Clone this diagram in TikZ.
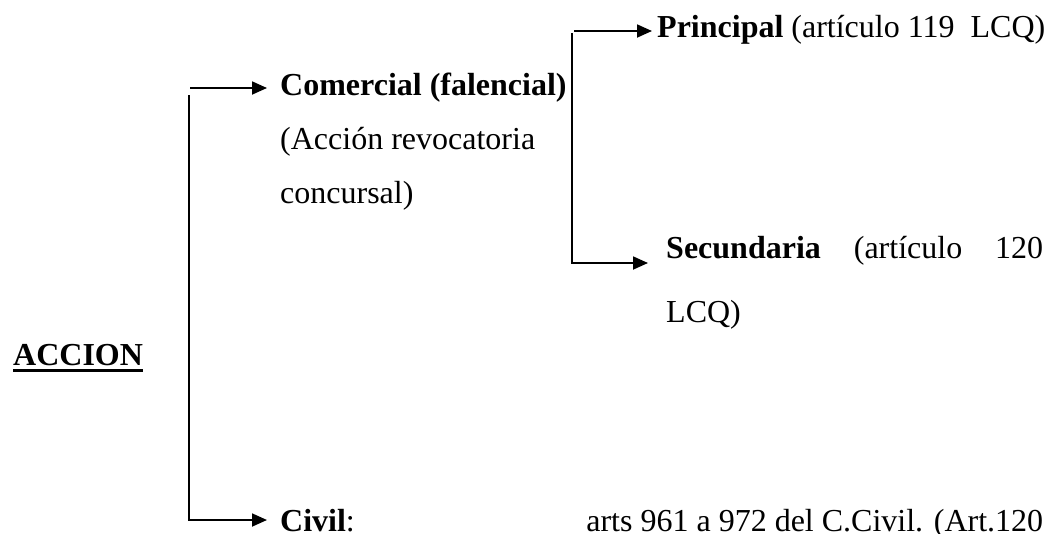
\documentclass[tikz,border=0pt]{standalone}
\usepackage{fontspec}
\setmainfont{Liberation Serif}
\usetikzlibrary{arrows.meta}
\begin{document}
\begin{tikzpicture}[x=1pt,y=-1pt,
  txt/.style={inner sep=0pt,anchor=base west,font=\fontsize{32}{38}\selectfont},
  conn/.style={line width=1.8pt,-{Triangle[length=15pt,width=13pt]}},
  bar/.style={line width=1.8pt}]
\useasboundingbox (0,0) rectangle (1057,533);
% texts
\node[txt] (accion) at (13,365) {\textbf{ACCION}};
\node[txt] (com) at (280,95) {\textbf{Comercial (falencial)}};
\node[txt] (com2) at (280,149) {(Acción revocatoria};
\node[txt] (com3) at (280,203) {concursal)};
\node[txt] (prin) at (657,37) {\textbf{Principal} (artículo 119\ \ LCQ)};
\node[txt] (sec) at (666,258) {\hbox to 377pt{\textbf{Secundaria}\hfill(artículo\hfill 120}};
\node[txt] (sec2) at (666,322) {LCQ)};
\node[txt] (civ) at (280,531) {\hbox to 763pt{\textbf{Civil}:\hfill arts 961 a 972 del C.Civil. (Art.120}};
% underline of ACCION
\draw[line width=2.6pt] ([yshift=-5.5pt]accion.base west) -- ([yshift=-5.5pt]accion.base east);
% left bracket
\coordinate (l1) at (190,88);
\coordinate (l2) at (189,95);
\coordinate (l3) at (189,520);
\coordinate (t1) at (267,88);
\coordinate (t2) at (267,520);
\draw[conn] (l1) -- (t1);
\draw[bar] (l2) -- (l3);
\draw[conn] ([xshift=-0.9pt]l3) -- (t2);
% right bracket
\coordinate (r1) at (574,31);
\coordinate (r2) at (572,33);
\coordinate (r3) at (572,263);
\coordinate (u1) at (652,31);
\coordinate (u2) at (648,263);
\draw[conn] (r1) -- (u1);
\draw[bar] (r2) -- (r3);
\draw[conn] ([xshift=-0.9pt]r3) -- (u2);
\end{tikzpicture}
\end{document}
